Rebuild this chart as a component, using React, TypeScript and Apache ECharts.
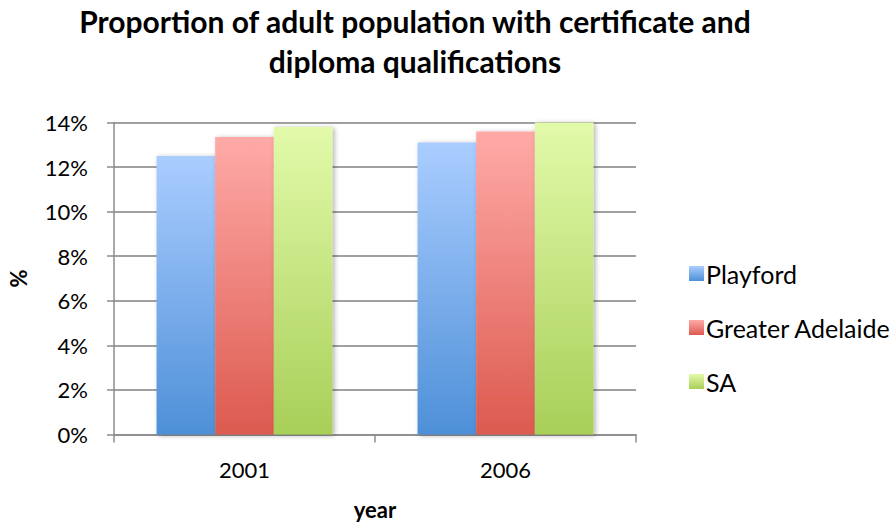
import React, { useEffect, useRef } from "react";
import * as echarts from "echarts";

const years = ["2001", "2006"];
const playford = [12.5, 13.1];
const greaterAdelaide = [13.35, 13.6];
const sa = [13.8, 14.0];
const yTicks = [0, 2, 4, 6, 8, 10, 12, 14];

const FONT = "Lato, 'Open Sans', sans-serif";

const grad = (top: string, bottom: string) =>
  new echarts.graphic.LinearGradient(0, 0, 0, 1, [
    { offset: 0, color: top },
    { offset: 1, color: bottom },
  ]);

const seriesDefs = [
  { name: "Playford", data: playford, top: "#aacdff", bottom: "#4e90d8" },
  { name: "Greater Adelaide", data: greaterAdelaide, top: "#ffaaa7", bottom: "#dc5a4f" },
  { name: "SA", data: sa, top: "#e2faaa", bottom: "#a8cf58" },
];

export default function App() {
  const ref = useRef<HTMLDivElement>(null);

  useEffect(() => {
    if (!ref.current) return;
    const chart = echarts.init(ref.current, undefined, { renderer: "svg" });
    chart.setOption({
      animation: false,
      backgroundColor: "#ffffff",
      title: {
        text: "Proportion of adult population with certificate and\ndiploma qualifications",
        left: 410,
        top: -4,
        textAlign: "center",
        textStyle: {
          fontFamily: FONT,
          fontWeight: "bold",
          fontSize: 30,
          lineHeight: 40,
          color: "#000000",
        },
      },
      legend: {
        orient: "vertical",
        left: 684,
        top: 256,
        itemWidth: 15,
        itemHeight: 15,
        itemGap: 29,
        icon: "rect",
        textStyle: { fontFamily: FONT, fontSize: 25, color: "#000000", padding: [0, 0, 0, -3] },
        data: seriesDefs.map((s) => ({
          name: s.name,
          itemStyle: { color: grad(s.top, s.bottom) },
        })),
      },
      grid: {
        left: 114,
        right: 258,
        top: 122.5,
        bottom: 87.5,
        containLabel: false,
        outerBoundsMode: "none",
      },
      xAxis: {
        type: "category",
        data: years,
        name: "year",
        nameLocation: "middle",
        nameGap: 64,
        nameTextStyle: { fontFamily: FONT, fontWeight: "bold", fontSize: 22, color: "#000000" },
        axisLine: { lineStyle: { color: "#8c8c8c", width: 1.5 } },
        axisTick: { show: true, length: 8, lineStyle: { color: "#8c8c8c", width: 1.5 } },
        axisLabel: { fontFamily: FONT, fontSize: 22, color: "#000000", margin: 24 },
      },
      yAxis: {
        type: "value",
        min: 0,
        max: 14,
        interval: 2,
        name: "%",
        nameLocation: "middle",
        nameGap: 85,
        nameRotate: 90,
        nameTextStyle: { fontFamily: FONT, fontWeight: "bold", fontSize: 22, color: "#000000" },
        axisLine: { show: true, lineStyle: { color: "#8c8c8c", width: 1.5 } },
        axisTick: { show: true, length: 7, lineStyle: { color: "#8c8c8c", width: 1.5 } },
        axisLabel: {
          fontFamily: FONT,
          fontSize: 22,
          color: "#000000",
          margin: 26,
          formatter: (v: number) => (yTicks.includes(v) ? `${v}%` : ""),
        },
        splitLine: { show: true, lineStyle: { color: "#a0a0a0", width: 2 } },
      },
      series: seriesDefs.map((s) => ({
        name: s.name,
        type: "bar",
        data: s.data,
        barGap: "0%",
        barCategoryGap: "32.6%",
        itemStyle: {
          color: grad(s.top, s.bottom),
          shadowColor: "rgba(0,0,0,0.3)",
          shadowBlur: 5,
          shadowOffsetX: 2,
          shadowOffsetY: 1,
        },
      })),
    });
    return () => chart.dispose();
  }, []);

  return (
    <div
      ref={ref}
      style={{ position: "absolute", left: 0, top: 0, width: 894, height: 522 }}
    />
  );
}
